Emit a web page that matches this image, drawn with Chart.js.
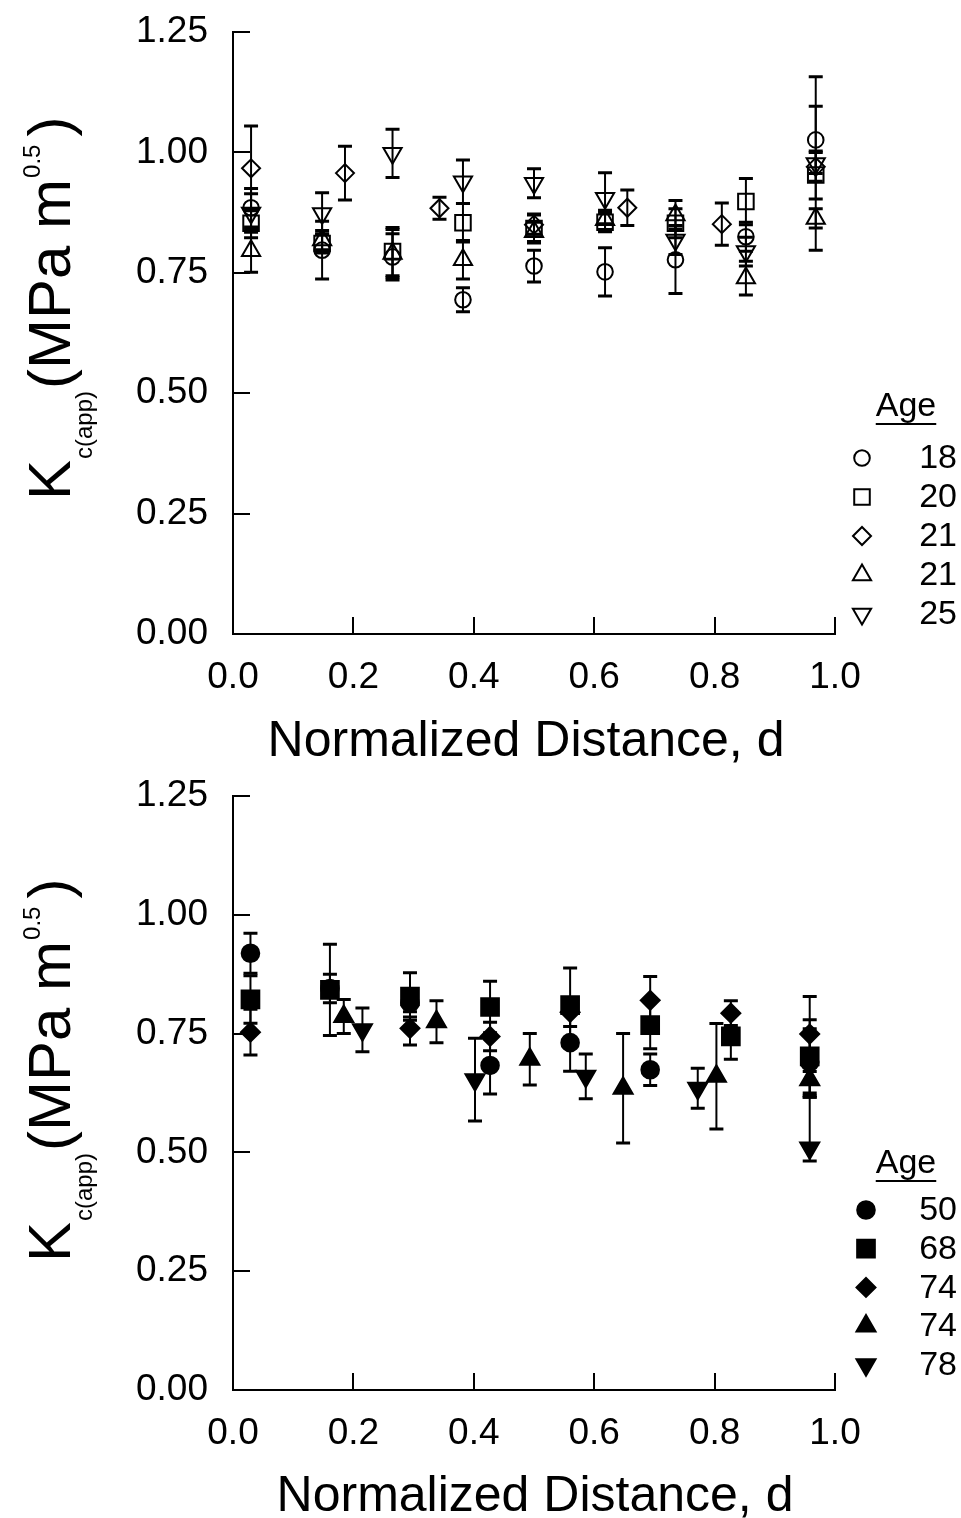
<!DOCTYPE html>
<html><head><meta charset="utf-8">
<script src="https://cdn.jsdelivr.net/npm/chart.js@4.4.1/dist/chart.umd.min.js"></script>
<style>
html,body{margin:0;padding:0;background:#fff;}
.panel{position:absolute;left:0;width:961px;}
</style></head><body>
<div class="panel" style="top:0;height:790px"><canvas id="c1" width="961" height="790"></canvas></div>
<div class="panel" style="top:759px;height:759px"><canvas id="c2" width="961" height="759"></canvas></div>
<script>
const FONT_FAMILY = '"Liberation Sans", Arial, Helvetica, sans-serif';

// ---------- shared axis ticks ----------
const xTickValues = [0, 0.2, 0.4, 0.6, 0.8, 1.0];
const yTickValues = [0, 0.25, 0.5, 0.75, 1.0, 1.25];

// ---------- TOP PANEL (young donors) ----------
const topLegendTitle = 'Age';
const topAgeLabels = ['18', '20', '21', '21', '25'];
const topPosA = [0.03, 0.148, 0.265, 0.382, 0.5, 0.618, 0.735, 0.852, 0.968];
const topPosB = [0.03, 0.186, 0.343, 0.5, 0.655, 0.812, 0.968];

const age18 = [0.885, 0.797, 0.783, 0.694, 0.764, 0.752, 0.777, 0.825, 1.026];
const age18Err = [0.04, 0.06, 0.048, 0.025, 0.033, 0.05, 0.07, 0.03, 0.07];
const age20 = [0.853, 0.811, 0.794, 0.854, 0.842, 0.855, 0.853, 0.898, 0.953];
const age20Err = [0.03, 0.02, 0.05, 0.04, 0.03, 0.02, 0.03, 0.048, 0.05];
const age21a = [0.967, 0.957, 0.884, 0.85, 0.885, 0.851, 0.97];
const age21aErr = [0.088, 0.056, 0.023, 0.02, 0.037, 0.044, 0.03];
const age21b = [0.796, 0.818, 0.79, 0.777, 0.835, 0.86, 0.87, 0.739, 0.863];
const age21bErr = [0.045, 0.02, 0.05, 0.04, 0.02, 0.02, 0.03, 0.035, 0.02];
const age25 = [0.874, 0.873, 0.998, 0.939, 0.936, 0.905, 0.818, 0.794, 0.977];
const age25Err = [0.04, 0.043, 0.05, 0.045, 0.03, 0.053, 0.03, 0.03, 0.18];

// ---------- BOTTOM PANEL (older donors) ----------
const botLegendTitle = 'Age';
const botAgeLabels = ['50', '68', '74', '74', '78'];
const pos50 = [0.029, 0.161, 0.294, 0.427, 0.56, 0.693, 0.958];
const age50 = [0.919, 0.845, 0.815, 0.683, 0.731, 0.674, 0.69];
const age50Err = [0.042, 0.03, 0.03, 0.06, 0.06, 0.033, 0.07];
const pos68 = [0.029, 0.161, 0.294, 0.427, 0.56, 0.693, 0.827, 0.958];
const age68 = [0.822, 0.842, 0.828, 0.806, 0.81, 0.768, 0.744, 0.702];
const age68Err = [0.05, 0.096, 0.05, 0.054, 0.078, 0.05, 0.048, 0.077];
const pos74a = [0.029, 0.294, 0.427, 0.56, 0.693, 0.827, 0.958];
const age74a = [0.753, 0.761, 0.744, 0.795, 0.82, 0.793, 0.749];
const age74aErr = [0.048, 0.035, 0.03, 0.03, 0.05, 0.026, 0.079];
const pos74b = [0.184, 0.338, 0.493, 0.648, 0.803, 0.958];
const age74b = [0.786, 0.775, 0.696, 0.635, 0.66, 0.653];
const age74bErr = [0.036, 0.044, 0.054, 0.115, 0.111, 0.037];
const pos78 = [0.215, 0.402, 0.586, 0.772, 0.958];
const age78 = [0.758, 0.653, 0.66, 0.635, 0.509];
const age78ErrUp = [0.046, 0.087, 0.047, 0.042, 0.107];
const age78ErrDown = [0.046, 0.087, 0.047, 0.042, 0.027];

function pts(xs, ys, up, down) {
  return xs.map((x, i) => ({ x: x, y: ys[i], eu: up[i], ed: (down || up)[i] }));
}

function ds(label, data, style, radius, rotation, filled) {
  return {
    label: label, data: data, showLine: false,
    pointStyle: style, pointRadius: radius, pointHoverRadius: radius,
    pointRotation: rotation,
    pointBackgroundColor: filled ? '#000' : 'rgba(0,0,0,0)',
    pointBorderColor: '#000', pointBorderWidth: 2
  };
}

const topDatasets = [
  ds(topAgeLabels[0], pts(topPosA, age18, age18Err), 'circle', 7.8, 0, false),
  ds(topAgeLabels[1], pts(topPosA, age20, age20Err), 'rect', 11, 0, false),
  ds(topAgeLabels[2], pts(topPosB, age21a, age21aErr), 'rectRot', 9, 0, false),
  ds(topAgeLabels[3], pts(topPosA, age21b, age21bErr), 'triangle', 10.5, 0, false),
  ds(topAgeLabels[4], pts(topPosA, age25, age25Err), 'triangle', 10.5, 180, false)
];
const botDatasets = [
  ds(botAgeLabels[0], pts(pos50, age50, age50Err), 'circle', 8.8, 0, true),
  ds(botAgeLabels[1], pts(pos68, age68, age68Err), 'rect', 12.5, 0, true),
  ds(botAgeLabels[2], pts(pos74a, age74a, age74aErr), 'rectRot', 9.5, 0, true),
  ds(botAgeLabels[3], pts(pos74b, age74b, age74bErr), 'triangle', 11, 0, true),
  ds(botAgeLabels[4], pts(pos78, age78, age78ErrUp, age78ErrDown), 'triangle', 11, 180, true)
];

// ---------- plugins ----------
const errorBars = {
  id: 'errorBars',
  beforeDatasetsDraw(chart) {
    const ctx = chart.ctx, xs = chart.scales.x, ys = chart.scales.y;
    ctx.save();
    ctx.strokeStyle = '#000';
    chart.data.datasets.forEach((d) => {
      d.data.forEach((p) => {
        const px = xs.getPixelForValue(p.x);
        const t = ys.getPixelForValue(p.y + p.eu);
        const b = ys.getPixelForValue(p.y - p.ed);
        ctx.lineWidth = 2;
        ctx.beginPath(); ctx.moveTo(px, t); ctx.lineTo(px, b); ctx.stroke();
        ctx.lineWidth = 3;
        ctx.beginPath();
        ctx.moveTo(px - 7, t); ctx.lineTo(px + 7, t);
        ctx.moveTo(px - 7, b); ctx.lineTo(px + 7, b);
        ctx.stroke();
      });
    });
    ctx.restore();
  }
};

function drawMarker(ctx, style, r, rot, filled, x, y) {
  const opts = { pointStyle: style, radius: r, rotation: rot, borderWidth: 2 };
  ctx.save();
  ctx.strokeStyle = '#000';
  ctx.fillStyle = filled ? '#000' : 'rgba(0,0,0,0)';
  ctx.lineWidth = 2;
  if (Chart.helpers && Chart.helpers.drawPoint) {
    Chart.helpers.drawPoint(ctx, opts, x, y);
  }
  ctx.restore();
}

const decor = {
  id: 'decor',
  afterDraw(chart, args, o) {
    const ctx = chart.ctx, xs = chart.scales.x, ys = chart.scales.y;
    const a = chart.chartArea;
    ctx.save();
    // inward tick marks
    ctx.strokeStyle = '#000'; ctx.lineWidth = 2;
    ctx.beginPath();
    xTickValues.forEach(v => {
      const px = Math.round(xs.getPixelForValue(v));
      ctx.moveTo(px, a.bottom); ctx.lineTo(px, a.bottom - 17);
    });
    yTickValues.forEach(v => {
      const py = Math.round(ys.getPixelForValue(v));
      ctx.moveTo(a.left, py); ctx.lineTo(a.left + 17, py);
    });
    ctx.stroke();

    ctx.fillStyle = '#000';
    // x title
    ctx.font = o.xTitleSize + 'px ' + FONT_FAMILY;
    ctx.textAlign = 'center'; ctx.textBaseline = 'alphabetic';
    ctx.fillText('Normalized Distance, d', o.xTitleX, o.xTitleY);

    // y title with sub/superscripts
    ctx.save();
    ctx.translate(o.yTitleX, o.yTitleY);
    ctx.rotate(-Math.PI / 2);
    ctx.textAlign = 'left';
    const main = o.yMain + 'px ' + FONT_FAMILY, sub = o.ySub + 'px ' + FONT_FAMILY;
    let cx = 0;
    ctx.font = main; ctx.fillText('K', cx, 0); cx += ctx.measureText('K').width + 1;
    ctx.font = sub; ctx.fillText('c(app)', cx, o.subDrop); cx += ctx.measureText('c(app)').width + 2;
    ctx.font = main; ctx.fillText('(MPa m', cx, 0); cx += ctx.measureText('(MPa m').width + 1;
    ctx.font = sub; ctx.fillText('0.5', cx, -o.supRise); cx += ctx.measureText('0.5').width + o.supGap;
    ctx.font = main; ctx.fillText(')', cx, 0);
    ctx.restore();

    // legend
    const L = o.legend;
    ctx.font = L.size + 'px ' + FONT_FAMILY;
    ctx.textAlign = 'center'; ctx.textBaseline = 'middle';
    ctx.fillText(L.title, L.titleX, L.titleY);
    const tw = ctx.measureText(L.title).width;
    ctx.lineWidth = 2;
    ctx.beginPath();
    ctx.moveTo(L.titleX - tw / 2, L.titleY + L.size * 0.5);
    ctx.lineTo(L.titleX + tw / 2, L.titleY + L.size * 0.5);
    ctx.stroke();
    ctx.textAlign = 'right';
    chart.data.datasets.forEach((d, i) => {
      const y = L.rowY0 + i * L.rowGap;
      drawMarker(ctx, d.pointStyle, d.pointRadius * L.markScale, d.pointRotation,
        d.pointBackgroundColor === '#000', L.markX, y);
      ctx.fillStyle = '#000';
      ctx.fillText(d.label, L.textRight, y + 1);
    });
    ctx.restore();
  }
};

function makeChart(id, datasets, H, areaTop, areaBottom, deco) {
  const xAxisH = 60;
  return new Chart(document.getElementById(id), {
    type: 'scatter',
    data: { datasets: datasets },
    options: {
      responsive: false, animation: false,
      layout: { padding: { left: 0, right: 961 - 835, top: areaTop, bottom: H - areaBottom - xAxisH } },
      plugins: { legend: { display: false }, tooltip: { enabled: false }, decor: deco },
      scales: {
        x: {
          type: 'linear', min: 0, max: 1,
          afterFit: (s) => { s.height = xAxisH; s.paddingLeft = 0; s.paddingRight = 0; },
          afterBuildTicks: (s) => { s.ticks = xTickValues.map(v => ({ value: v })); },
          grid: { display: false, drawTicks: false },
          border: { display: true, color: '#000', width: 2 },
          ticks: { color: '#000', padding: 22, maxRotation: 0, font: { family: FONT_FAMILY, size: 37 },
                   callback: (v) => Number(v).toFixed(1) }
        },
        y: {
          type: 'linear', min: 0, max: 1.25,
          afterFit: (s) => { s.width = 233; s.paddingTop = 0; s.paddingBottom = 0; },
          afterBuildTicks: (s) => { s.ticks = yTickValues.map(v => ({ value: v })); },
          grid: { display: false, drawTicks: false },
          border: { display: true, color: '#000', width: 2 },
          ticks: { color: '#000', padding: 25, font: { family: FONT_FAMILY, size: 37 },
                   callback: (v) => Number(v).toFixed(2) }
        }
      }
    },
    plugins: [errorBars, decor]
  });
}

makeChart('c1', topDatasets, 790, 32, 634, {
  xTitleSize: 50, xTitleX: 526, xTitleY: 756,
  yTitleX: 70, yTitleY: 500, yMain: 60, ySub: 24, subDrop: 22, supRise: 30, supGap: 8,
  legend: { title: topLegendTitle, size: 34, titleX: 906, titleY: 407, rowY0: 458, rowGap: 39,
            markX: 862, textRight: 957, markScale: 1.0 }
});
makeChart('c2', botDatasets, 759, 796 - 759, 1390 - 759, {
  xTitleSize: 50, xTitleX: 535, xTitleY: 1511 - 759,
  yTitleX: 70, yTitleY: 1262 - 759, yMain: 60, ySub: 24, subDrop: 22, supRise: 30, supGap: 8,
  legend: { title: botLegendTitle, size: 34, titleX: 906, titleY: 1164 - 759, rowY0: 1210 - 759, rowGap: 38.7,
            markX: 866, textRight: 957, markScale: 1.0 }
});
</script>
</body></html>
